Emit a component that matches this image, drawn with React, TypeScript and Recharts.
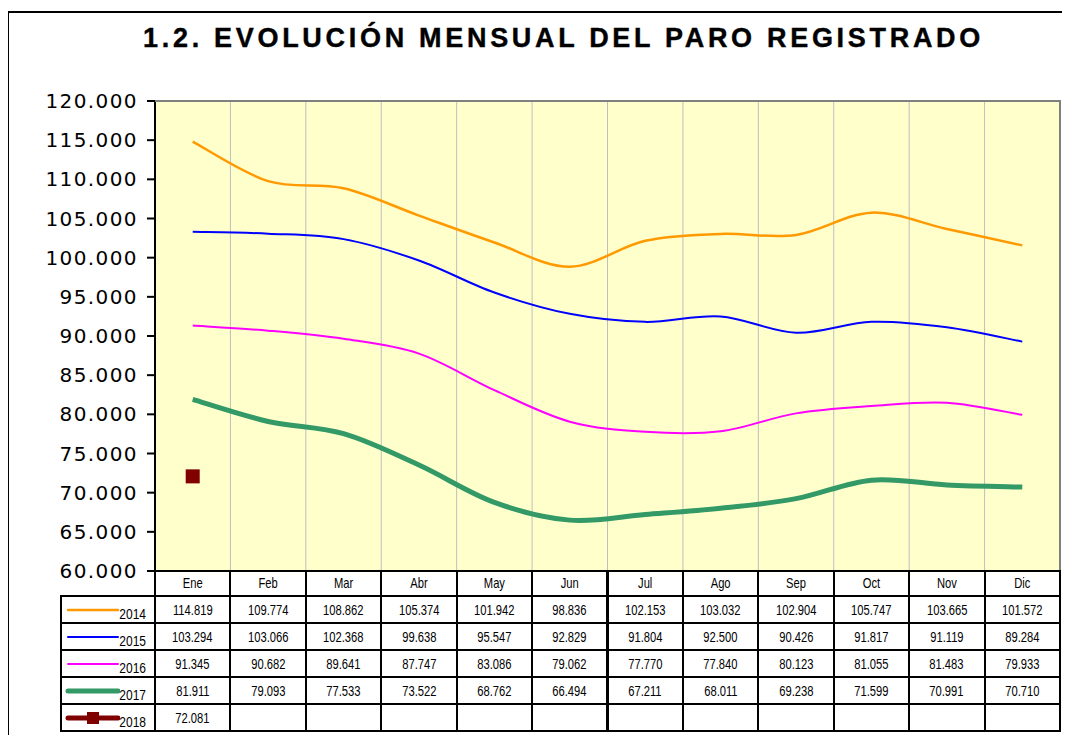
import React from 'react';
import { LineChart, Line, XAxis, YAxis, CartesianGrid } from 'recharts';

const months = ['Ene', 'Feb', 'Mar', 'Abr', 'May', 'Jun', 'Jul', 'Ago', 'Sep', 'Oct', 'Nov', 'Dic'];
const s2014 = [114819, 109774, 108862, 105374, 101942, 98836, 102153, 103032, 102904, 105747, 103665, 101572];
const s2015 = [103294, 103066, 102368, 99638, 95547, 92829, 91804, 92500, 90426, 91817, 91119, 89284];
const s2016 = [91345, 90682, 89641, 87747, 83086, 79062, 77770, 77840, 80123, 81055, 81483, 79933];
const s2017 = [81911, 79093, 77533, 73522, 68762, 66494, 67211, 68011, 69238, 71599, 70991, 70710];
const s2018 = [72081];
const yTicks = [60000, 65000, 70000, 75000, 80000, 85000, 90000, 95000, 100000, 105000, 110000, 115000, 120000];
const title = '1.2. EVOLUCIÓN MENSUAL DEL PARO REGISTRADO';

const series = [
  { key: 'y2014', name: '2014', values: s2014, color: '#FF9900', width: 2.5 },
  { key: 'y2015', name: '2015', values: s2015, color: '#0000FF', width: 2 },
  { key: 'y2016', name: '2016', values: s2016, color: '#FF00FF', width: 2 },
  { key: 'y2017', name: '2017', values: s2017, color: '#339966', width: 5 },
  { key: 'y2018', name: '2018', values: s2018, color: '#800000', width: 5, marker: true },
];

const data = months.map((m, i) => {
  const row: any = { month: m };
  series.forEach((s) => {
    if (i < s.values.length) row[s.key] = s.values[i];
  });
  return row;
});

const fmt = (v: number) => String(v).replace(/\B(?=(\d{3})+(?!\d))/g, '.');

// Excel-like smoothing (Catmull-Rom via cubic Bezier)
function excelSmooth(context: any) {
  let pts: number[][] = [];
  return {
    areaStart() {},
    areaEnd() {},
    lineStart() {
      pts = [];
    },
    lineEnd() {
      if (!pts.length) return;
      context.moveTo(pts[0][0], pts[0][1]);
      if (pts.length === 1) {
        context.lineTo(pts[0][0], pts[0][1]);
        return;
      }
      for (let i = 0; i < pts.length - 1; i++) {
        const p0 = pts[i - 1] || pts[i];
        const p1 = pts[i];
        const p2 = pts[i + 1];
        const p3 = pts[i + 2] || p2;
        const c1x = p1[0] + (p2[0] - p0[0]) / 6;
        const c1y = p1[1] + (p2[1] - p0[1]) / 6;
        const c2x = p2[0] - (p3[0] - p1[0]) / 6;
        const c2y = p2[1] - (p3[1] - p1[1]) / 6;
        context.bezierCurveTo(c1x, c1y, c2x, c2y, p2[0], p2[1]);
      }
    },
    point(x: number, y: number) {
      pts.push([+x, +y]);
    },
  };
}

const W = 1062;
const H = 727;
const PL = 147;
const PT = 93;
const PR = 1052;
const PB = 563;
const PW = PR - PL;
const PH = PB - PT;
const LABEL_L = 53;
const rowTops = [563, 588, 615, 642, 669, 696, 723];

const sans = "'Liberation Sans', Arial, sans-serif";
const verdana = "'DejaVu Sans', Verdana, sans-serif";
const SQ = 0.8;

const colX = (c: number) => (c === 0 ? LABEL_L : PL + ((c - 1) * PW) / 12);
const colX2 = (c: number) => (c === 0 ? PL : PL + (c * PW) / 12);

function Narrow({ children, style }: any) {
  return (
    <span
      style={{
        display: 'inline-block',
        fontFamily: sans,
        fontSize: 14,
        transform: `scaleX(${SQ})`,
        whiteSpace: 'nowrap',
        ...style,
      }}
    >
      {children}
    </span>
  );
}

function Cell({ x1, x2, y1, y2, children, style }: any) {
  return (
    <div
      style={{
        position: 'absolute',
        left: x1 - 1,
        top: y1 - 1,
        width: x2 - x1 + 2,
        height: y2 - y1 + 2,
        border: '2px solid #000',
        boxSizing: 'border-box',
        display: 'flex',
        alignItems: 'center',
        justifyContent: 'center',
        color: '#000',
        ...style,
      }}
    >
      {children}
    </div>
  );
}

function LegendKey({ s }: any) {
  return (
    <svg width={56} height={20} style={{ position: 'absolute', left: 2, top: 3 }}>
      <line x1={4} x2={54} y1={10} y2={10} stroke={s.color} strokeWidth={s.width} strokeLinecap="round" />
      {s.marker && <rect x={23} y={4} width={12} height={12} fill={s.color} />}
    </svg>
  );
}

function MonthTick({ x, payload }: any) {
  return (
    <text
      transform={`translate(${x},${PB + 17}) scale(${SQ},1)`}
      x={0}
      y={0}
      textAnchor="middle"
      fontFamily={sans}
      fontSize={14}
      fill="#000"
    >
      {payload.value}
    </text>
  );
}

export default function App() {
  return (
    <div style={{ position: 'relative', width: W, height: H, overflow: 'hidden', background: '#fff' }}>
      <div
        style={{
          position: 'absolute',
          left: -1,
          top: 3,
          width: 2000,
          height: 2000,
          border: '2px solid #000',
          boxSizing: 'border-box',
        }}
      />
      <div
        style={{
          position: 'absolute',
          left: 135,
          top: 14,
          whiteSpace: 'nowrap',
          fontFamily: sans,
          fontWeight: 'bold',
          fontSize: 27,
          letterSpacing: 3.7,
          color: '#000',
          lineHeight: '32px',
          WebkitTextStroke: '0.4px #000',
        }}
      >
        {title}
      </div>
      <div style={{ position: 'absolute', left: 0, top: 0 }}>
        <LineChart width={W} height={H} data={data} margin={{ top: PT, right: W - PR, left: 0, bottom: H - PB - 25 }}>
          <CartesianGrid
            horizontal={false}
            vertical
            fill="#FFFFCC"
            stroke="#BEBEBE"
            strokeWidth={1}
            verticalCoordinatesGenerator={() => months.slice(1).map((_, i) => PL + ((i + 1) * PW) / 12)}
          />
          <XAxis
            dataKey="month"
            scale="band"
            height={25}
            axisLine={false}
            tickLine={false}
            interval={0}
            tick={<MonthTick />}
          />
          <YAxis
            width={PL}
            domain={[60000, 120000]}
            ticks={yTicks}
            interval={0}
            tickFormatter={fmt}
            axisLine={{ stroke: '#000', strokeWidth: 2 }}
            tickLine={{ stroke: '#000', strokeWidth: 2 }}
            tickSize={8}
            tickMargin={9}
            tick={{ fontFamily: verdana, fontSize: 20, fill: '#000', letterSpacing: 1.4 } as any}
          />
          {series.map((s) => (
            <Line
              key={s.key}
              dataKey={s.key}
              name={s.name}
              type={excelSmooth as any}
              stroke={s.color}
              strokeWidth={s.width}
              isAnimationActive={false}
              connectNulls={false}
              dot={
                s.marker
                  ? (p: any) =>
                      p.cx != null && p.cy != null && p.value != null ? (
                        <rect key={`d${p.index}`} x={p.cx - 7} y={p.cy - 7} width={14} height={14} fill={s.color} />
                      ) : (
                        <g key={`d${p.index}`} />
                      )
                  : false
              }
              activeDot={false}
            />
          ))}
        </LineChart>
      </div>
      <div
        style={{
          position: 'absolute',
          left: PL,
          top: PT - 1,
          width: PW + 1,
          height: PH + 1,
          borderTop: '2px solid #808080',
          borderRight: '2px solid #808080',
          boxSizing: 'border-box',
          pointerEvents: 'none',
        }}
      />
      {months.map((m, i) => (
        <Cell key={`h${m}`} x1={colX(i + 1)} x2={colX2(i + 1)} y1={rowTops[0]} y2={rowTops[1]} />
      ))}
      {series.map((s, r) => (
        <React.Fragment key={`r${s.key}`}>
          <Cell x1={colX(0)} x2={colX2(0)} y1={rowTops[r + 1]} y2={rowTops[r + 2]} style={{ justifyContent: 'flex-start' }}>
            <LegendKey s={s} />
            <Narrow style={{ position: 'absolute', left: 54, bottom: 0, fontSize: 15 }}>{s.name}</Narrow>
          </Cell>
          {months.map((m, i) => (
            <Cell key={`${s.key}${m}`} x1={colX(i + 1)} x2={colX2(i + 1)} y1={rowTops[r + 1]} y2={rowTops[r + 2]}>
              <Narrow>{i < s.values.length ? fmt(s.values[i]) : ''}</Narrow>
            </Cell>
          ))}
        </React.Fragment>
      ))}
    </div>
  );
}
